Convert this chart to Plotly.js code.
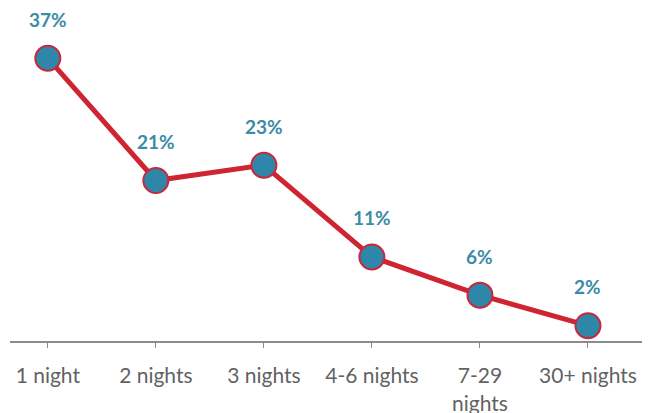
<!DOCTYPE html>
<html>
<head>
<meta charset="utf-8">
<script src="https://cdn.plot.ly/plotly-3.0.1.min.js"></script>
<style>html,body{margin:0;padding:0;background:#fff;}#chart{width:654px;height:413px;}</style>
</head>
<body>
<div id="chart"></div>
<script>
const categories = ["1 night", "2 nights", "3 nights", "4-6 nights", "7-29<br>nights", "30+ nights"];
const shares = [37, 21, 23, 11, 6, 2];
const shareLabels = ["37%", "21%", "23%", "11%", "6%", "2%"];

const trace = {
  x: categories,
  y: shares,
  type: "scatter",
  mode: "lines+markers",
  line: {color: "#cf2532", width: 5},
  marker: {size: 25, color: "#2e86a8", line: {color: "#c8283a", width: 2}},
  cliponaxis: false,
  hoverinfo: "skip"
};

const annotations = categories.map((c, i) => ({
  x: c, y: shares[i], xref: "x", yref: "y",
  text: shareLabels[i], showarrow: false,
  yshift: 39,
  font: {family: "Lato, 'Open Sans', sans-serif", size: 19, color: "#3b8ca6", weight: "bold"}
}));

const layout = {
  width: 654, height: 413,
  margin: {l: 10, r: 12, t: 20, b: 72},
  paper_bgcolor: "#ffffff",
  plot_bgcolor: "#ffffff",
  showlegend: false,
  annotations: annotations,
  xaxis: {
    type: "category",
    range: [-0.35, 5.5],
    showgrid: false,
    zeroline: false,
    showline: true,
    linecolor: "#8c8c8c",
    linewidth: 2,
    ticks: "outside",
    ticklen: 5,
    tickcolor: "#8c8c8c",
    ticklabelstandoff: 10,
    tickfont: {family: "Lato, 'Open Sans', sans-serif", size: 21, color: "#626262"},
    fixedrange: true
  },
  yaxis: {
    range: [0, 42],
    visible: false,
    showgrid: false,
    zeroline: false,
    fixedrange: true
  }
};

Plotly.newPlot("chart", [trace], layout, {displayModeBar: false, staticPlot: true});
</script>
</body>
</html>
